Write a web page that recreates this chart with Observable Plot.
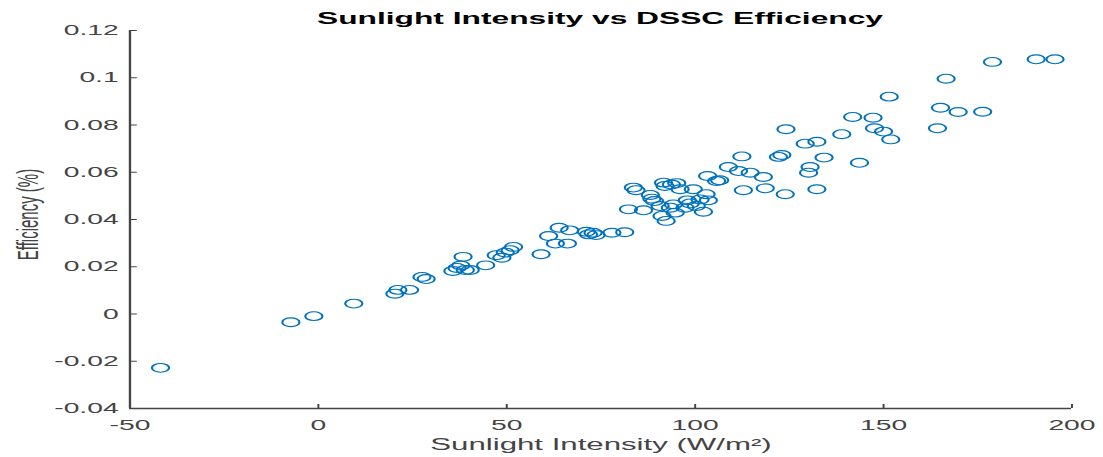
<!DOCTYPE html>
<html>
<head>
<meta charset="utf-8">
<script src="https://cdn.jsdelivr.net/npm/d3@7"></script>
<script src="https://cdn.jsdelivr.net/npm/@observablehq/plot@0.6"></script>
<style>
  html, body { margin: 0; padding: 0; background: #fff; }
  #wrap { position: relative; width: 1103px; height: 457px; overflow: hidden; }
  #titlebox { position: relative; height: 20px; z-index: 2; }
  #title { position: absolute; left: 129px; width: 942px; top: 8px; text-align: center;
    font: bold 16.2px "Liberation Sans", Arial, sans-serif; line-height: 20px; color: #000;
    transform: scaleX(1.96); transform-origin: center; white-space: nowrap; }
</style>
</head>
<body>
<div id="wrap">
  <div id="titlebox"><div id="title"></div></div>
  <div id="chart"></div>
</div>
<script>
const titleText = "Sunlight Intensity vs DSSC Efficiency";
const xLabel = "Sunlight Intensity (W/m²)";
const yLabel = "Efficiency (%)";

const xDomain = [-50, 200];
const yDomain = [-0.04, 0.12];
const xTicks = [-50, 0, 50, 100, 150, 200];
const xTickLabels = ["-50", "0", "50", "100", "150", "200"];
const yTicks = [-0.04, -0.02, 0, 0.02, 0.04, 0.06, 0.08, 0.1, 0.12];
const yTickLabels = ["-0.04", "-0.02", "0", "0.02", "0.04", "0.06", "0.08", "0.1", "0.12"];

const intensity = [
  -41.9, -7.3, -1.2, 9.4, 20.3, 21.1, 24.2, 27.5, 28.6, 35.7,
  36.8, 37.8, 38.4, 39.0, 40.3, 44.4, 47.2, 48.7, 49.6, 50.9,
  51.8, 59.1, 61.1, 62.9, 63.9, 66.1, 66.7, 71.1, 71.7, 72.9,
  73.7, 77.9, 81.3, 82.3, 83.6, 84.3, 86.3, 88.1, 88.5, 89.2,
  90.7, 91.2, 91.6, 92.0, 92.3, 93.4, 93.7, 94.2, 94.7, 95.1,
  96.0, 97.3, 97.9, 98.7, 99.5, 100.3, 101.3, 102.2, 102.9, 103.5,
  103.3, 105.7, 106.5, 108.8, 111.5, 112.4, 112.8, 114.6, 118.1, 118.6,
  122.1, 123.0, 123.9, 124.1, 129.2, 130.1, 130.5, 132.3, 132.3, 134.2,
  138.9, 141.8, 143.6, 147.2, 147.6, 150.0, 151.5, 151.9, 164.3, 165.1,
  166.6, 169.8, 176.3, 178.9, 190.5, 195.5
];
const efficiency = [
  -0.0228, -0.0035, -0.0009, 0.0044, 0.0086, 0.0102, 0.0102, 0.0157, 0.0148, 0.0182,
  0.0195, 0.0205, 0.0242, 0.0186, 0.0186, 0.0206, 0.0249, 0.0238, 0.0260, 0.0270,
  0.0284, 0.0253, 0.0330, 0.0298, 0.0365, 0.0298, 0.0354, 0.0348, 0.0337, 0.0344,
  0.0334, 0.0344, 0.0346, 0.0443, 0.0535, 0.0524, 0.0439, 0.0504, 0.0488, 0.0478,
  0.0457, 0.0415, 0.0556, 0.0542, 0.0394, 0.0450, 0.0548, 0.0464, 0.0429, 0.0554,
  0.0528, 0.0450, 0.0481, 0.0468, 0.0528, 0.0457, 0.0485, 0.0433, 0.0507, 0.0481,
  0.0584, 0.0563, 0.0566, 0.0622, 0.0605, 0.0667, 0.0524, 0.0598, 0.0580, 0.0532,
  0.0665, 0.0673, 0.0507, 0.0782, 0.0721, 0.0598, 0.0622, 0.0729, 0.0528, 0.0662,
  0.0761, 0.0834, 0.0640, 0.0831, 0.0786, 0.0772, 0.0920, 0.0739, 0.0786, 0.0873,
  0.0996, 0.0855, 0.0856, 0.1067, 0.1078, 0.1078
];

const points = intensity.map((x, i) => ({x, y: efficiency[i]}));
const xFmt = new Map(xTicks.map((t, i) => [t, xTickLabels[i]]));
const yFmt = new Map(yTicks.map((t, i) => [t, yTickLabels[i]]));

document.getElementById("title").textContent = titleText;

const S = 1.95;              // horizontal stretch of the reference
const PAGE_W = 1103;
const W = PAGE_W / S;
const H = 437;
const axisColor = "#444";
const font = "'Liberation Sans', Arial, sans-serif";

const svg = Plot.plot({
  width: W,
  height: H,
  marginLeft: 129 / S,
  marginRight: 32 / S,
  marginTop: 10,
  marginBottom: 49,
  style: {fontFamily: font, background: "#fff", overflow: "visible"},
  x: {domain: xDomain},
  y: {domain: yDomain},
  marks: [
    Plot.ruleX([xDomain[0]], {y1: yDomain[0], y2: yDomain[1], stroke: axisColor, strokeWidth: 1.2}),
    Plot.ruleY([yDomain[0]], {x1: xDomain[0], x2: xDomain[1], stroke: axisColor, strokeWidth: 1.4}),
    Plot.axisX({ticks: xTicks, tickFormat: d => xFmt.get(d), tickSize: -4, tickPadding: 15,
      fontSize: 14.5, color: axisColor, label: null}),
    Plot.axisY({ticks: yTicks, tickFormat: d => yFmt.get(d), tickSize: -4, tickPadding: 9.8,
      fontSize: 14.5, color: axisColor, label: null}),
    Plot.text([xLabel], {frameAnchor: "bottom", dy: 30.3, lineAnchor: "top", textAnchor: "middle",
      fontSize: 16, fill: axisColor}),
    Plot.text([yLabel], {frameAnchor: "left", rotate: -90, dx: -52, dy: -5, lineAnchor: "middle",
      textAnchor: "middle", fontSize: 15, fill: axisColor}),
    Plot.dot(points, {x: "x", y: "y", r: 4.4, stroke: "#0072BD", strokeWidth: 1.1, fill: "none"})
  ]
});

svg.setAttribute("width", PAGE_W);
svg.setAttribute("height", H);
svg.setAttribute("viewBox", `0 0 ${W} ${H}`);
svg.setAttribute("preserveAspectRatio", "none");
svg.style.width = PAGE_W + "px";
svg.style.height = H + "px";
svg.style.maxWidth = "none";
document.getElementById("chart").appendChild(svg);
</script>
</body>
</html>
